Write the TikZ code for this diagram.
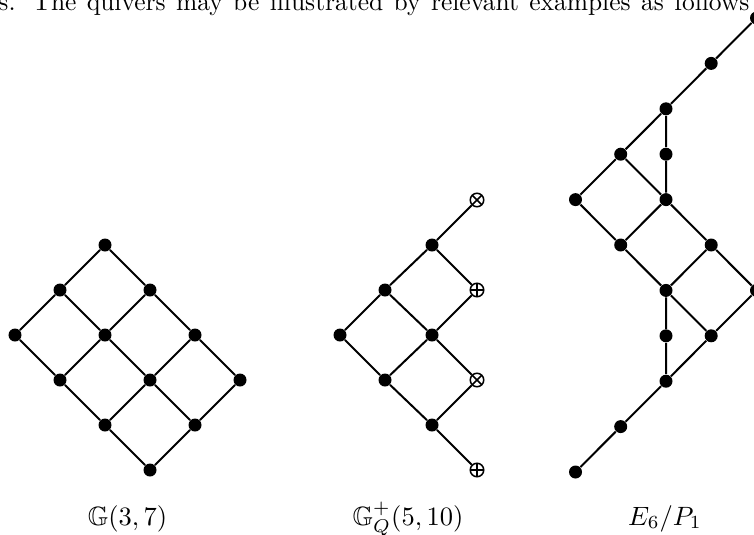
\documentclass[tikz,border=0pt]{standalone}
\usepackage{amsmath,amssymb}
\usepackage{graphicx}
\usepackage{tikz}

\begin{document}
\begin{tikzpicture}[
  x=0.4pt, y=-0.4pt,
  vtx/.style={circle, fill=black, inner sep=0pt, minimum size=5.2pt},
  otim/.style={circle, draw=black, line width=0.6pt, inner sep=0pt, minimum size=5.4pt,
    path picture={\draw[line width=0.6pt] (path picture bounding box.north west) -- (path picture bounding box.south east)
      (path picture bounding box.north east) -- (path picture bounding box.south west);}},
  opls/.style={circle, draw=black, line width=0.6pt, inner sep=0pt, minimum size=5.4pt,
    path picture={\draw[line width=0.6pt] (path picture bounding box.north) -- (path picture bounding box.south)
      (path picture bounding box.east) -- (path picture bounding box.west);}},
  edge/.style={line width=0.8pt, black},
  caption/.style={anchor=base, inner sep=0pt}
]
\useasboundingbox (0,0) rectangle (754,534);
\node[anchor=base west, inner sep=0pt] (txt) at (-2,10) {\scalebox{1.02}{\makebox[294.5pt][s]{s. The quivers may be illustrated by relevant examples as follows}}};

% G(3,7)
\node[vtx] (a1) at (15,335) {};
\node[vtx] (a2) at (60,290) {};
\node[vtx] (a3) at (60,380) {};
\node[vtx] (a4) at (105,245) {};
\node[vtx] (a5) at (105,335) {};
\node[vtx] (a6) at (105,425) {};
\node[vtx] (a7) at (150,290) {};
\node[vtx] (a8) at (150,380) {};
\node[vtx] (a9) at (150,470) {};
\node[vtx] (a10) at (195,335) {};
\node[vtx] (a11) at (195,425) {};
\node[vtx] (a12) at (240,380) {};
\draw[edge] (a1) -- (a2) -- (a4);
\draw[edge] (a3) -- (a5) -- (a7);
\draw[edge] (a6) -- (a8) -- (a10);
\draw[edge] (a9) -- (a11) -- (a12);
\draw[edge] (a1) -- (a3) -- (a6) -- (a9);
\draw[edge] (a2) -- (a5) -- (a8) -- (a11);
\draw[edge] (a4) -- (a7) -- (a10) -- (a12);
\node[caption] (capa) at (127.5,525) {\scalebox{1.06}{$\mathbb{G}(3,7)$}};

% G_Q^+(5,10)
\node[vtx] (b1) at (340,335) {};
\node[vtx] (b2) at (385,290) {};
\node[vtx] (b3) at (385,380) {};
\node[vtx] (b4) at (432,245) {};
\node[vtx] (b5) at (432,335) {};
\node[vtx] (b6) at (432,425) {};
\node[otim] (c1) at (477,200) {};
\node[opls] (c2) at (477,290) {};
\node[otim] (c3) at (477,380) {};
\node[opls] (c4) at (477,470) {};
\draw[edge] (b1) -- (b2) -- (b4) -- (c1);
\draw[edge] (b3) -- (b5) -- (c2);
\draw[edge] (b6) -- (c3);
\draw[edge] (b1) -- (b3) -- (b6) -- (c4);
\draw[edge] (b2) -- (b5) -- (c3);
\draw[edge] (b4) -- (c2);
\node[caption] (capb) at (408,525) {\scalebox{1.06}{$\mathbb{G}_Q^+(5,10)$}};

% E6/P1
\node[vtx] (e1) at (756.5,18) {};
\node[vtx] (e2) at (711.2,63.4) {};
\node[vtx] (e3) at (666,108.8) {};
\node[vtx] (e4) at (620.7,154.2) {};
\node[vtx] (e5) at (666,154.2) {};
\node[vtx] (e6) at (575.5,199.6) {};
\node[vtx] (e7) at (666,199.6) {};
\node[vtx] (e8) at (620.7,245) {};
\node[vtx] (e9) at (711.2,245) {};
\node[vtx] (e10) at (666,290.4) {};
\node[vtx] (e11) at (756.5,290.4) {};
\node[vtx] (e12) at (666,335.8) {};
\node[vtx] (e13) at (711.2,335.8) {};
\node[vtx] (e14) at (666,381.2) {};
\node[vtx] (e15) at (620.7,426.6) {};
\node[vtx] (e16) at (575.5,472) {};
\draw[edge] (e1) -- (e2) -- (e3) -- (e4) -- (e6) -- (e8) -- (e10) -- (e13) -- (e11);
\draw[edge] (e3) -- (e5) -- (e7) -- (e9) -- (e11);
\draw[edge] (e4) -- (e7) -- (e8);
\draw[edge] (e9) -- (e10) -- (e12) -- (e14) -- (e15) -- (e16);
\draw[edge] (e13) -- (e14);
\node[caption] (capc) at (665,525) {\scalebox{1.06}{$E_6/P_1$}};
\end{tikzpicture}
\end{document}
